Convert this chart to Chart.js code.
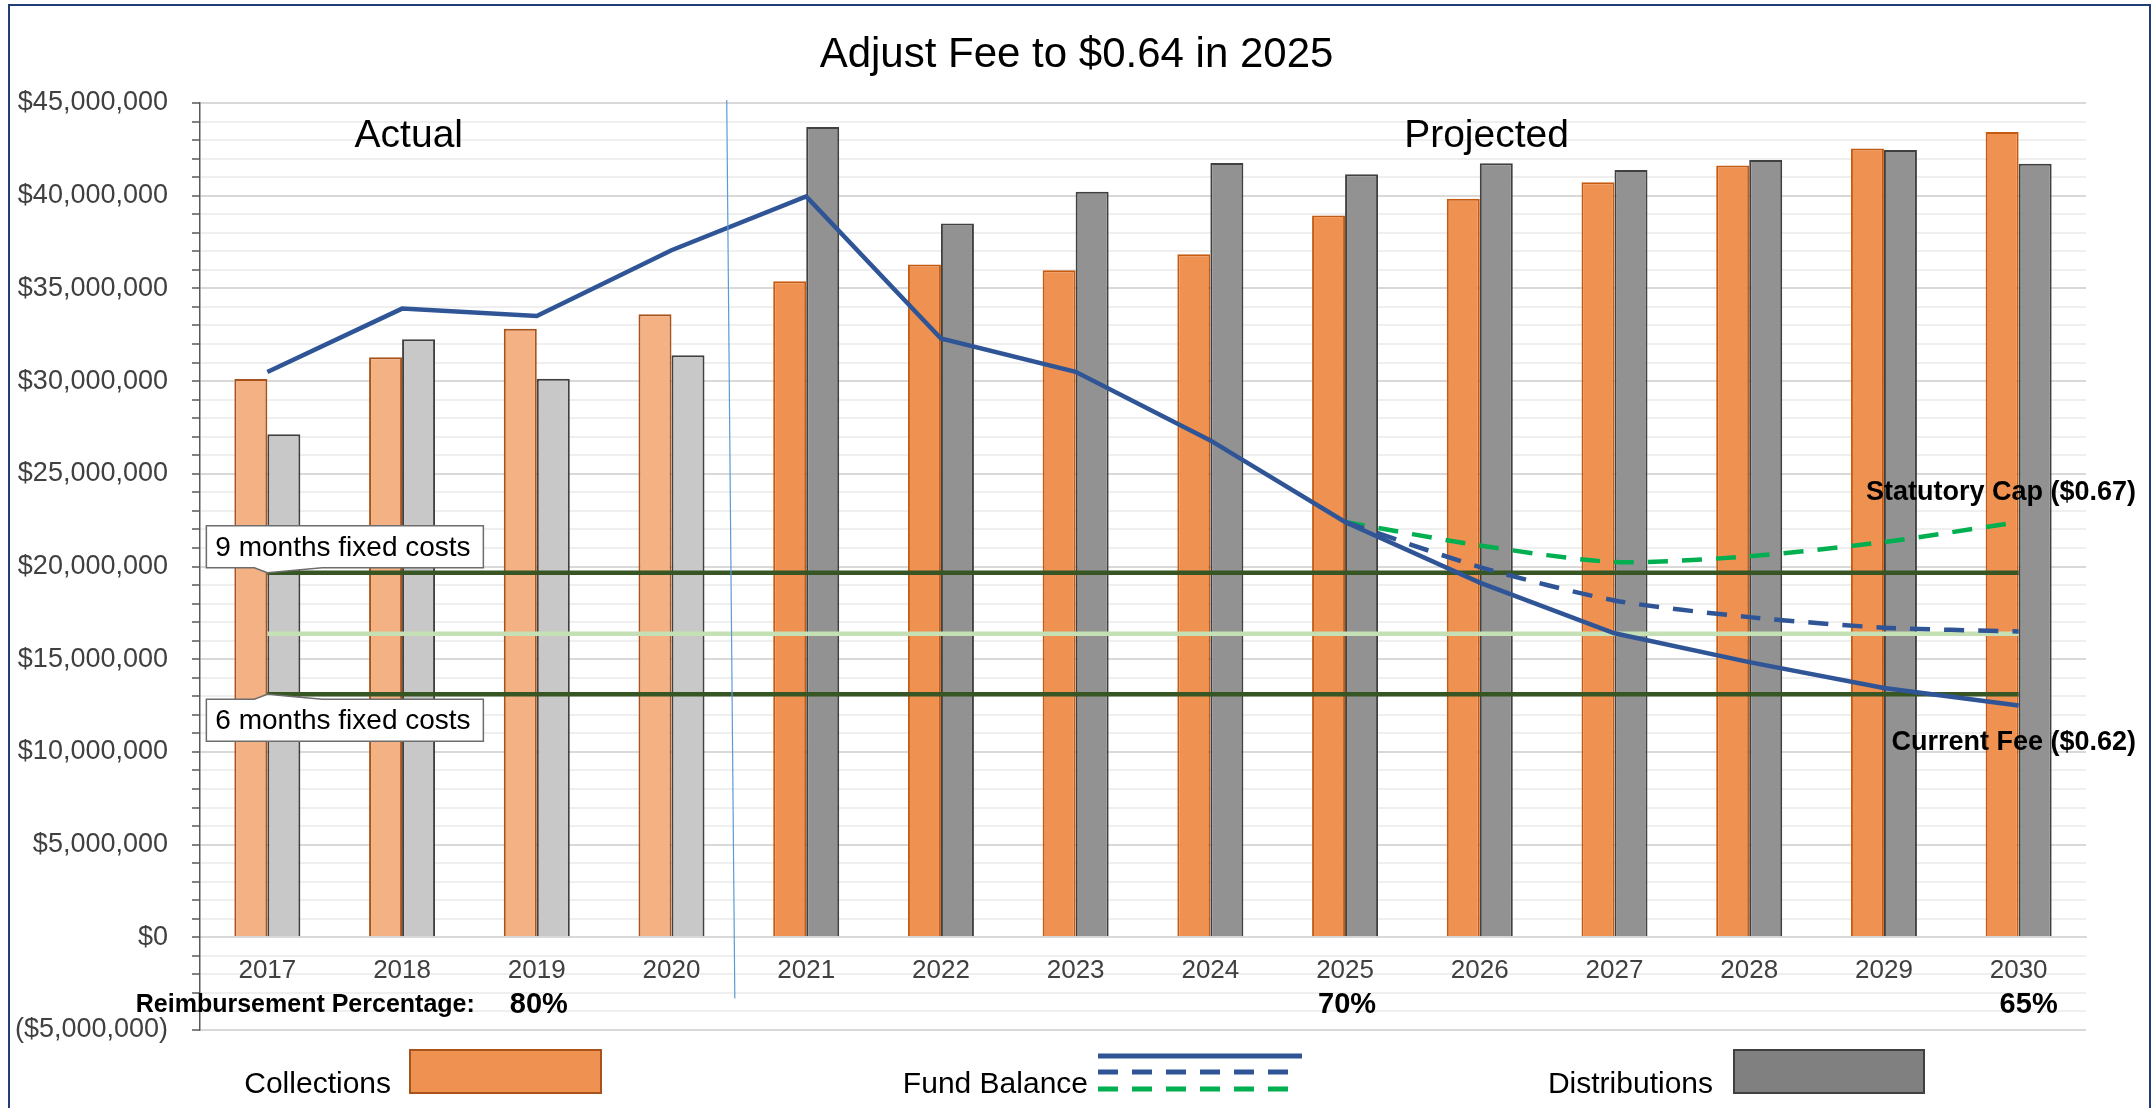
<!DOCTYPE html>
<html>
<head>
<meta charset="utf-8">
<title>Adjust Fee to $0.64 in 2025</title>
<script src="https://cdn.jsdelivr.net/npm/chart.js@4.4.1/dist/chart.umd.min.js"></script>
<style>
  html, body { margin: 0; padding: 0; background: #fff; overflow: hidden; }
  #wrap { position: relative; width: 2153px; height: 1108px; }
  #feeChart { position: absolute; left: 0; top: 0; }
  #frame { position: absolute; left: 8px; top: 4px; width: 2139px; height: 1200px; border: 2px solid #203d78; pointer-events: none; }
</style>
</head>
<body>
<div id="wrap">
  <canvas id="feeChart" width="2153" height="1108"></canvas>
  <div id="frame"></div>
</div>
<script>
const chartTitle = 'Adjust Fee to $0.64 in 2025';
const years = ['2017', '2018', '2019', '2020', '2021', '2022', '2023', '2024', '2025', '2026', '2027', '2028', '2029', '2030'];
const lastActual = '2020';

const collections   = [30110000, 31280000, 32830000, 33600000, 35390000, 36290000, 35980000, 36840000, 38930000, 39830000, 40730000, 41630000, 42550000, 43430000];
const distributions = [27130000, 32260000, 30130000, 31390000, 43700000, 38500000, 40210000, 41770000, 41160000, 41750000, 41390000, 41930000, 42460000, 41720000];

// fund balance at the current fee, with the fee raised in 2025, and at the statutory cap
const fundBalance  = [30490000, 33910000, 33510000, 37060000, 39960000, 32300000, 30500000, 26800000, 22400000, 19130000, 16400000, 14840000, 13450000, 12500000];
const fundAdjusted = [null, null, null, null, null, null, null, null, 22400000, 19970000, 18170000, 17270000, 16700000, 16500000];
const fundCap      = [null, null, null, null, null, null, null, null, 22400000, 21130000, 20240000, 20550000, 21320000, 22400000];

const nineMonthsFixed = 19660000;
const midFixed = 16370000;
const sixMonthsFixed = 13110000;

const reimbYears = ['2019', '2025', '2030'];
const reimbPct = ['80%', '70%', '65%'];

const yMin = -5000000;
const yMax = 45000000;
const yMajor = 5000000;
const yMinor = 1000000;

const FONT = "'Liberation Sans', Arial, sans-serif";
const isActual = i => i <= years.indexOf(lastActual);

function money(v) {
  const s = '$' + Math.abs(v).toLocaleString('en-US');
  return v < 0 ? '(' + s + ')' : s;
}

function callout(ctx, pt, text, above) {
  const w = 277, h = 42;
  const left = pt.x - 61, right = left + w;
  const edge = above ? pt.y - 5 : pt.y + 5;          // edge facing the point
  const far = above ? edge - h : edge + h;
  ctx.beginPath();
  ctx.moveTo(left, far);
  ctx.lineTo(right, far);
  ctx.lineTo(right, edge);
  ctx.lineTo(pt.x + 55, edge);
  ctx.lineTo(pt.x, pt.y);
  ctx.lineTo(pt.x - 13, edge);
  ctx.lineTo(left, edge);
  ctx.closePath();
  ctx.fillStyle = '#fff';
  ctx.fill();
  ctx.lineWidth = 1.5;
  ctx.strokeStyle = '#6d6d6d';
  ctx.stroke();
  ctx.fillStyle = '#000';
  ctx.font = '28px ' + FONT;
  ctx.textAlign = 'left';
  ctx.textBaseline = 'middle';
  ctx.fillText(text, left + 9, (edge + far) / 2 + 1);
}

const overlay = {
  id: 'overlay',
  afterDatasetsDraw(chart) {
    const { ctx, chartArea } = chart;
    const x = chart.scales.x, y = chart.scales.y;
    ctx.save();

    // title, centred on the whole frame
    ctx.fillStyle = '#000';
    ctx.textBaseline = 'middle';
    ctx.textAlign = 'center';
    ctx.font = '42px ' + FONT;
    ctx.fillText(chartTitle, chart.width / 2, 55);

    // thin divider between actual and projected years
    const sep = years.indexOf(lastActual) + 0.5;
    ctx.strokeStyle = '#5b9bd5';
    ctx.lineWidth = 1.2;
    ctx.beginPath();
    ctx.moveTo(x.getPixelForValue(sep - 0.09), chartArea.top - 3);
    ctx.lineTo(x.getPixelForValue(sep - 0.03), y.getPixelForValue(-3300000));
    ctx.stroke();

    ctx.font = '39px ' + FONT;
    ctx.fillText('Actual', x.getPixelForValue(1.05), y.getPixelForValue(43200000));
    ctx.fillText('Projected', x.getPixelForValue(9.05), y.getPixelForValue(43200000));

    // callouts on the fixed cost lines
    const nine = chart.getDatasetMeta(3).data[0];
    const six = chart.getDatasetMeta(5).data[0];
    callout(ctx, nine, '9 months fixed costs', true);
    callout(ctx, six, '6 months fixed costs', false);

    // end labels for the fund balance scenarios
    const capEnd = chart.getDatasetMeta(2).data[years.length - 1];
    const curEnd = chart.getDatasetMeta(0).data[years.length - 1];
    ctx.fillStyle = '#000';
    ctx.textAlign = 'right';
    ctx.font = 'bold 27px ' + FONT;
    ctx.fillText('Statutory Cap ($0.67)', chartArea.right + 50, capEnd.y - 29);
    ctx.fillText('Current Fee ($0.62)', chartArea.right + 50, curEnd.y + 37);

    // reimbursement percentages
    const rowY = y.getPixelForValue(-3650000);
    ctx.font = 'bold 25px ' + FONT;
    ctx.fillText('Reimbursement Percentage:', x.getPixelForValue(years.indexOf(reimbYears[0])) - 62, rowY);
    ctx.textAlign = 'center';
    ctx.font = 'bold 29px ' + FONT;
    reimbYears.forEach((yr, i) => {
      ctx.fillText(reimbPct[i], x.getPixelForValue(years.indexOf(yr)) + (i === 2 ? 10 : 2), rowY);
    });

    // legend
    const ds = chart.data.datasets;
    const ly = 1085;
    ctx.font = '30px ' + FONT;
    ctx.textAlign = 'right';
    ctx.fillStyle = '#000';
    ctx.fillText('Collections', 391, ly);
    ctx.fillText('Fund Balance', 1088, ly);
    ctx.fillText('Distributions', 1713, ly);

    ctx.lineWidth = 2;
    ctx.fillStyle = '#ef9150';
    ctx.strokeStyle = '#a9531c';
    ctx.fillRect(410, 1050, 191, 43);
    ctx.strokeRect(410, 1050, 191, 43);
    ctx.fillStyle = '#808080';
    ctx.strokeStyle = '#404040';
    ctx.fillRect(1734, 1050, 190, 43);
    ctx.strokeRect(1734, 1050, 190, 43);

    [[0, 1056], [1, 1072], [2, 1089]].forEach(([i, ly2]) => {
      ctx.beginPath();
      ctx.strokeStyle = ds[i].borderColor;
      ctx.lineWidth = 5;
      ctx.setLineDash(ds[i].borderDash || []);
      ctx.moveTo(1098, ly2);
      ctx.lineTo(1302, ly2);
      ctx.stroke();
    });
    ctx.setLineDash([]);
    ctx.restore();
  }
};

const flat = v => years.map(() => v);

new Chart(document.getElementById('feeChart').getContext('2d'), {
  data: {
    labels: years,
    datasets: [
      { type: 'line', label: 'Current Fee ($0.62)', data: fundBalance, borderColor: '#2f5597', borderWidth: 4.5, pointRadius: 0, tension: 0, order: 0 },
      { type: 'line', label: 'Adjust Fee ($0.64)', data: fundAdjusted, borderColor: '#2f5597', borderWidth: 4.5, borderDash: [20, 14], pointRadius: 0, tension: 0.25, order: 0 },
      { type: 'line', label: 'Statutory Cap ($0.67)', data: fundCap, borderColor: '#00b050', borderWidth: 4.5, borderDash: [20, 14], pointRadius: 0, tension: 0.25, order: 0 },
      { type: 'line', label: '9 months fixed costs', data: flat(nineMonthsFixed), borderColor: '#375623', borderWidth: 4.5, pointRadius: 0, order: 1 },
      { type: 'line', label: 'Fixed costs', data: flat(midFixed), borderColor: '#c5e0b4', borderWidth: 4.5, pointRadius: 0, order: 1 },
      { type: 'line', label: '6 months fixed costs', data: flat(sixMonthsFixed), borderColor: '#375623', borderWidth: 4.5, pointRadius: 0, order: 1 },
      {
        type: 'bar', label: 'Collections', data: collections, order: 2,
        backgroundColor: c => isActual(c.dataIndex) ? '#f4b183' : '#ef9150',
        borderColor: c => isActual(c.dataIndex) ? '#a9531c' : '#c55a11',
        borderWidth: 2, categoryPercentage: 0.49, barPercentage: 1
      },
      {
        type: 'bar', label: 'Distributions', data: distributions, order: 2,
        backgroundColor: c => isActual(c.dataIndex) ? '#c8c8c8' : '#929292',
        borderColor: '#404040',
        borderWidth: 2, categoryPercentage: 0.49, barPercentage: 1
      }
    ]
  },
  options: {
    responsive: false,
    animation: false,
    devicePixelRatio: 1,
    layout: { padding: { left: 0, right: 67, top: 103, bottom: 78 } },
    plugins: {
      legend: { display: false },
      tooltip: { enabled: false },
      title: { display: false }
    },
    scales: {
      x: {
        type: 'category',
        offset: true,
        position: { y: 0 },
        grid: { display: true, drawOnChartArea: false, drawTicks: true, tickLength: 15, tickColor: 'rgba(0,0,0,0)', color: 'rgba(0,0,0,0)' },
        border: { display: true, color: '#d9d9d9', width: 2 },
        ticks: { color: '#404040', font: { family: FONT, size: 26 }, maxRotation: 0, autoSkip: false }
      },
      y: {
        min: yMin,
        max: yMax,
        afterFit: s => { s.width = 200; },
        grid: {
          color: c => c.tick.value % yMajor === 0 ? '#d9d9d9' : '#efefef',
          lineWidth: 2,
          tickLength: 8,
          tickColor: '#595959',
          tickWidth: 1.5
        },
        border: { display: true, color: '#595959', width: 1.5 },
        ticks: {
          stepSize: yMinor,
          autoSkip: false,
          maxTicksLimit: 100,
          padding: 24,
          color: '#404040',
          font: { family: FONT, size: 27 },
          callback: v => v % yMajor === 0 ? money(v) : ''
        }
      }
    }
  },
  plugins: [overlay]
});
</script>
</body>
</html>
